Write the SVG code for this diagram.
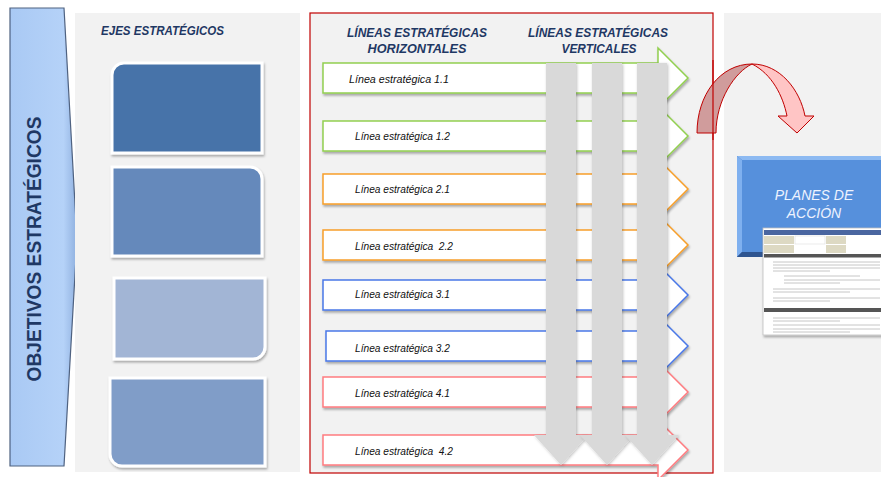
<svg xmlns="http://www.w3.org/2000/svg" width="881" height="477" viewBox="0 0 881 477">
<defs>
<linearGradient id="gLeft" x1="0" y1="0" x2="1" y2="0">
<stop offset="0" stop-color="#a9c9f4"/>
<stop offset="0.8" stop-color="#b5d2f8"/>
<stop offset="1" stop-color="#8fb0df"/>
</linearGradient>
<filter id="sh" x="-10%" y="-10%" width="130%" height="140%">
<feDropShadow dx="1" dy="2" stdDeviation="1.2" flood-color="#000" flood-opacity="0.3"/>
</filter>
<filter id="sh2" x="-20%" y="-5%" width="140%" height="115%">
<feDropShadow dx="1" dy="1" stdDeviation="1.5" flood-color="#000" flood-opacity="0.25"/>
</filter>
</defs>
<style>
.panel{fill:#f2f2f2}
.head{font-family:"Liberation Sans",Arial,sans-serif;font-weight:bold;font-style:italic;fill:#1f3864}
.eje{stroke:#fff;stroke-width:3;filter:url(#sh)}
.harr{fill:#fff;stroke-width:1.5;filter:url(#sh)}
.lbl{font-family:"Liberation Sans",Arial,sans-serif;font-style:italic;font-size:11px;fill:#111}
.varr{fill:#d9d9d9;filter:url(#sh2)}
.g{stroke:#92d050}.o{stroke:#f79f2a}.b{stroke:#4a78e8}.r{stroke:#ff7c80}
</style>
<rect width="881" height="477" fill="#fff"/>

<g id="objetivos">
<polygon points="10,8 64,8 77,240 64,466 10,466" fill="url(#gLeft)" stroke="#4f6280" stroke-width="1.2"/>
<text transform="translate(41,249) rotate(-90)" text-anchor="middle" textLength="265" lengthAdjust="spacingAndGlyphs" font-family="'Liberation Sans',Arial,sans-serif" font-weight="bold" font-size="21" fill="#1f3864">OBJETIVOS ESTRATÉGICOS</text>
</g>

<g id="ejes">
<rect class="panel" x="75" y="13" width="225" height="459"/>
<text class="head" x="101" y="35" font-size="13.5" textLength="123" lengthAdjust="spacingAndGlyphs">EJES ESTRATÉGICOS</text>
<path id="eje1" class="eje" d="M124,63 H262 V153 H112 V75 A12,12 0 0 1 124,63 Z" fill="#4673a9"/>
<path id="eje2" class="eje" d="M112,167 H250 A12,12 0 0 1 262,179 V256 H112 Z" fill="#6589bb"/>
<path id="eje3" class="eje" d="M114,278 H265 V347 A12,12 0 0 1 253,359 H114 Z" fill="#a2b5d5"/>
<path id="eje4" class="eje" d="M110,378 H265 V466 H122 A12,12 0 0 1 110,454 Z" fill="#809dc8"/>
</g>

<g id="lineas-panel">
<rect class="panel" x="310" y="13" width="403" height="460" stroke="#c00000" stroke-width="1.2"/>
<text class="head" x="417" y="37" font-size="13.5" text-anchor="middle" textLength="140" lengthAdjust="spacingAndGlyphs">LÍNEAS ESTRATÉGICAS</text>
<text class="head" x="417" y="53" font-size="13.5" text-anchor="middle" textLength="99" lengthAdjust="spacingAndGlyphs">HORIZONTALES</text>
<text class="head" x="598" y="37" font-size="13.5" text-anchor="middle" textLength="140" lengthAdjust="spacingAndGlyphs">LÍNEAS ESTRATÉGICAS</text>
<text class="head" x="599" y="53" font-size="13.5" text-anchor="middle" textLength="75" lengthAdjust="spacingAndGlyphs">VERTICALES</text>
</g>

<g id="l11"><path class="harr g" d="M323,63 H658 V48 L688,78 L658,108 V93 H323 Z"/><text class="lbl" x="349" y="83" textLength="100" lengthAdjust="spacingAndGlyphs">Línea estratégica 1.1</text></g>
<g id="l12"><path class="harr g" d="M323,121 H658 V106 L688,136 L658,166 V151 H323 Z"/><text class="lbl" x="355" y="140" textLength="95" lengthAdjust="spacingAndGlyphs">Línea estratégica 1.2</text></g>
<g id="l21"><path class="harr o" d="M323,174 H658 V159 L688,189 L658,219 V204 H323 Z"/><text class="lbl" x="355" y="193" textLength="95" lengthAdjust="spacingAndGlyphs">Línea estratégica 2.1</text></g>
<g id="l22"><path class="harr o" d="M323,230 H658 V215 L688,245 L658,275 V260 H323 Z"/><text class="lbl" x="355" y="250" textLength="98" lengthAdjust="spacingAndGlyphs" xml:space="preserve">Línea estratégica  2.2</text></g>
<g id="l31"><path class="harr b" d="M323,280 H658 V265 L688,295 L658,325 V310 H323 Z"/><text class="lbl" x="355" y="298" textLength="95" lengthAdjust="spacingAndGlyphs">Línea estratégica 3.1</text></g>
<g id="l32"><path class="harr b" d="M326,331 H658 V316 L688,346 L658,376 V361 H326 Z"/><text class="lbl" x="355" y="352" textLength="95" lengthAdjust="spacingAndGlyphs">Línea estratégica 3.2</text></g>
<g id="l41"><path class="harr r" d="M323,377 H658 V362 L688,392 L658,422 V407 H323 Z"/><text class="lbl" x="355" y="397" textLength="95" lengthAdjust="spacingAndGlyphs">Línea estratégica 4.1</text></g>
<g id="l42"><path class="harr r" d="M323,435 H658 V420 L688,450 L658,480 V465 H323 Z"/><text class="lbl" x="355" y="455" textLength="98" lengthAdjust="spacingAndGlyphs" xml:space="preserve">Línea estratégica  4.2</text></g>

<g id="verticales">
<path class="varr" d="M546,63 H576 V435 H588 L561,465 L534,435 H546 Z"/>
<path class="varr" d="M592,63 H622 V435 H634 L607,465 L580,435 H592 Z"/>
<path class="varr" d="M637,63 H667 V435 H679 L652,465 L625,435 H637 Z"/>
</g>

<g id="planes-panel">
<rect class="panel" x="724" y="13" width="157" height="459"/>
</g>

<g id="connectors">
<path d="M697,133 C697,95 720,64 752,64 C735,72 716,100 716,133 Z" fill="#d09c9c" stroke="#c00000" stroke-width="1"/>
<path d="M752,64 C780,64 800,90 805,116 L814,116 L797,133 L778,116 L787,116 C783,96 772,74 752,64 Z" fill="#ffc5c5" stroke="#c00000" stroke-width="1"/>
<line x1="713" y1="60" x2="713" y2="140" stroke="#c00000" stroke-width="1.2"/>
</g>

<g id="planes">
<rect x="737" y="156" width="150" height="101" fill="#3f6fb5"/>
<rect x="742" y="160" width="145" height="92" fill="#5690dc"/>
<path d="M737,156 L742,160 V252 L737,257 Z" fill="#7fb0ef"/>
<path d="M737,156 H887 L887,160 H742 Z" fill="#8dbaf2"/>
<path d="M737,257 L742,252 H887 V257 Z" fill="#2f5590"/>
<text x="814" y="200" text-anchor="middle" font-family="'Liberation Sans',Arial,sans-serif" font-style="italic" font-size="14" fill="#eef3ff">PLANES DE</text>
<text x="814" y="218" text-anchor="middle" font-family="'Liberation Sans',Arial,sans-serif" font-style="italic" font-size="14" fill="#eef3ff">ACCIÓN</text>
</g>

<g id="documento">
<rect x="763" y="228" width="120" height="107" fill="#fff" stroke="#bfbfbf" stroke-width="0.8" filter="url(#sh)"/>
<rect x="764" y="230" width="118" height="5" fill="#4a66a0"/>
<rect x="764" y="236" width="30" height="8" fill="#ddd9c3"/>
<rect x="795" y="236" width="30" height="8" fill="#fff" stroke="#ccc" stroke-width="0.4"/>
<rect x="826" y="236" width="20" height="8" fill="#ddd9c3"/>
<rect x="764" y="245" width="30" height="8" fill="#ddd9c3"/>
<rect x="826" y="245" width="20" height="8" fill="#ddd9c3"/>
<rect x="764" y="254" width="118" height="3.5" fill="#555"/>
<g stroke="#b8b8b8" stroke-width="0.8">
<line x1="773" y1="262" x2="880" y2="262"/>
<line x1="773" y1="265" x2="880" y2="265"/>
<line x1="773" y1="268" x2="880" y2="268"/>
<line x1="773" y1="271" x2="830" y2="271"/>
<line x1="784" y1="276" x2="860" y2="276"/>
<line x1="784" y1="280" x2="880" y2="280"/>
<line x1="784" y1="283" x2="840" y2="283"/>
<line x1="773" y1="289" x2="880" y2="289"/>
<line x1="773" y1="292" x2="850" y2="292"/>
<line x1="773" y1="298" x2="880" y2="298"/>
<line x1="773" y1="301" x2="830" y2="301"/>
<line x1="773" y1="318" x2="880" y2="318"/>
<line x1="773" y1="321" x2="840" y2="321"/>
<line x1="773" y1="325" x2="880" y2="325"/>
<line x1="773" y1="329" x2="880" y2="329"/>
<line x1="773" y1="332" x2="850" y2="332"/>
</g>
<rect x="764" y="308" width="118" height="4" fill="#555"/>
</g>
</svg>
